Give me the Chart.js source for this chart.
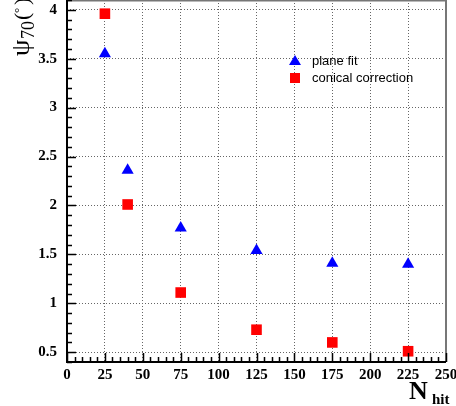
<!DOCTYPE html>
<html><head><meta charset="utf-8">
<script src="https://cdn.jsdelivr.net/npm/chart.js@4"></script>
<style>html,body{margin:0;padding:0;background:#fff;}#wrap{width:456px;height:406px;}</style>
</head><body><div id="wrap"><canvas id="c" width="456" height="406"></canvas></div>
<script>
const nhit = [25, 40, 75, 125, 175, 225];
const planeFit = [3.55, 2.36, 1.77, 1.54, 1.41, 1.40];
const conicalCorrection = [3.96, 2.01, 1.11, 0.73, 0.60, 0.51];
const xTicks = [0, 25, 50, 75, 100, 125, 150, 175, 200, 225, 250];
const yTicks = [0.5, 1, 1.5, 2, 2.5, 3, 3.5, 4];
const seriesNames = ['plane fit', 'conical correction'];

const serif = "'Liberation Serif','DejaVu Serif',serif";
const sans = "'Liberation Sans',Arial,sans-serif";

const fixTop = {
  id: 'fixTop',
  afterLayout(chart) {
    const y = chart.scales.y, top = 0;
    chart.chartArea.top = top;
    chart.chartArea.height = chart.chartArea.bottom - top;
    y.top = top; y.height = y.bottom - top;
    y.configure();
  }
};

const deco = {
  id: 'deco',
  afterDraw(chart) {
    const ctx = chart.ctx, a = chart.chartArea;
    const xs = chart.scales.x, ys = chart.scales.y;
    ctx.save();
    // frame
    ctx.strokeStyle = '#777'; ctx.lineWidth = 2;
    ctx.beginPath(); ctx.moveTo(a.left, a.top + 0.5); ctx.lineTo(a.right, a.top + 0.5); ctx.lineTo(a.right, a.bottom); ctx.stroke();
    ctx.strokeStyle = '#000'; ctx.lineWidth = 2;
    ctx.beginPath(); ctx.moveTo(a.left, a.top); ctx.lineTo(a.left, a.bottom); ctx.lineTo(a.right, a.bottom); ctx.stroke();
    // ticks
    ctx.lineWidth = 1.5;
    ctx.beginPath();
    for (let v = 0; v <= 250; v += 5) {
      const px = Math.round(xs.getPixelForValue(v)) + 0.5;
      const len = (v % 25 === 0) ? 9 : 5;
      ctx.moveTo(px, a.bottom); ctx.lineTo(px, a.bottom - len);
    }
    for (let i = 4; i <= 41; i++) {
      const v = i / 10;
      const py = Math.round(ys.getPixelForValue(v)) + 0.5;
      const len = (i % 5 === 0) ? 9 : 5;
      ctx.moveTo(a.left, py); ctx.lineTo(a.left + len, py);
    }
    ctx.stroke();
    // legend
    ctx.fillStyle = '#0000ff';
    ctx.beginPath(); ctx.moveTo(295, 55); ctx.lineTo(301, 65); ctx.lineTo(289, 65); ctx.closePath(); ctx.fill();
    ctx.fillStyle = '#ff0000';
    ctx.fillRect(290, 73, 10, 10);
    ctx.fillStyle = '#000'; ctx.font = '13px ' + sans; ctx.textBaseline = 'middle'; ctx.textAlign = 'left';
    ctx.fillText(seriesNames[0], 312, 61);
    ctx.fillText(seriesNames[1], 312, 78);
    // x title
    ctx.textBaseline = 'alphabetic';
    ctx.font = 'bold 26px ' + serif;
    ctx.fillText('N', 409, 399);
    ctx.font = 'bold 15px ' + serif;
    ctx.fillText('hit', 432, 404);
    // y title rotated
    ctx.translate(29, 56);
    ctx.rotate(-Math.PI / 2);
    ctx.font = '26px ' + serif;
    ctx.fillText('\u03C8', 0, 0);
    ctx.font = '18px ' + serif;
    ctx.fillText('70', 17, 5);
    ctx.font = '22px ' + serif;
    ctx.fillText('(', 36, 0);
    ctx.font = '13px ' + serif;
    ctx.fillText('\u00B0', 43, -6);
    ctx.font = '22px ' + serif;
    ctx.fillText(')', 51, 0);
    ctx.restore();
  }
};

new Chart(document.getElementById('c'), {
  type: 'scatter',
  data: {
    datasets: [
      { label: seriesNames[0], data: nhit.map((x, i) => ({x, y: planeFit[i]})),
        pointStyle: 'triangle', pointRadius: 7, backgroundColor: '#0000ff', borderColor: '#0000ff', borderWidth: 0 },
      { label: seriesNames[1], data: nhit.map((x, i) => ({x, y: conicalCorrection[i]})),
        pointStyle: 'rect', pointRadius: 7.5, backgroundColor: '#ff0000', borderColor: '#ff0000', borderWidth: 0 }
    ]
  },
  plugins: [fixTop, deco],
  options: {
    responsive: false, animation: false,
    layout: { padding: { top: 1, right: 10, left: 0, bottom: 0 } },
    plugins: { legend: { display: false }, tooltip: { enabled: false } },
    scales: {
      x: {
        type: 'linear', min: 0, max: 250,
        afterBuildTicks: s => { s.ticks = xTicks.map(v => ({value: v})); },
        afterFit: s => { s.height = 44; s.paddingLeft = 0; s.paddingRight = 0; },
        grid: { color: '#666', lineWidth: 1, drawTicks: false },
        border: { display: false, dash: [1, 2] },
        ticks: { color: '#000', font: { family: serif, weight: 'bold', size: 15 }, padding: 4, maxRotation: 0, autoSkip: false }
      },
      y: {
        type: 'linear', min: 0.4, max: 4.1,
        afterBuildTicks: s => { s.ticks = yTicks.map(v => ({value: v})); },
        afterFit: s => { s.width = 67; s.paddingTop = 0; s.paddingBottom = 0; },
        grid: { color: '#666', lineWidth: 1, drawTicks: false },
        border: { display: false, dash: [1, 2] },
        ticks: { color: '#000', font: { family: serif, weight: 'bold', size: 15 }, padding: 10, autoSkip: false,
                 callback: v => String(v) }
      }
    }
  }
});
</script>
</body></html>
